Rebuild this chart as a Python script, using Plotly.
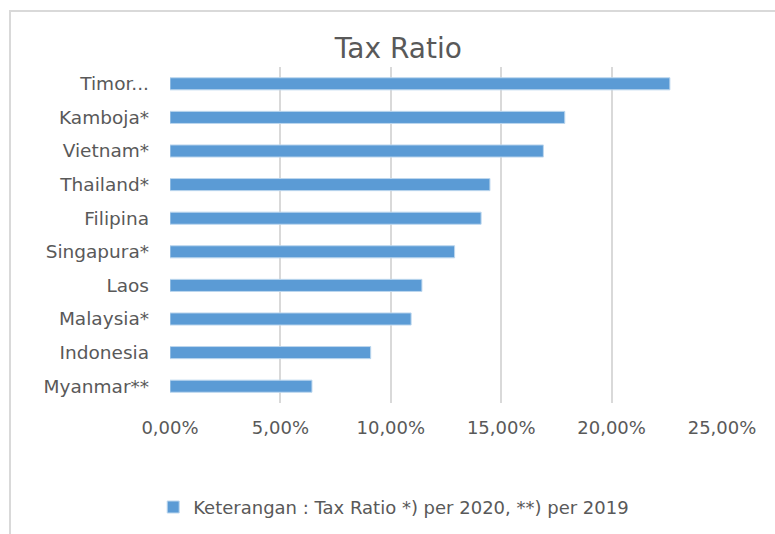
import plotly.graph_objects as go

countries = ["Myanmar**", "Indonesia", "Malaysia*", "Laos", "Singapura*",
             "Filipina", "Thailand*", "Vietnam*", "Kamboja*", "Timor..."]
tax_ratio = [6.43, 9.09, 10.92, 11.41, 12.89, 14.09, 14.49, 16.91, 17.88, 22.64]
tick_vals = [0, 5, 10, 15, 20, 25]
tick_text = ["0,00%", "5,00%", "10,00%", "15,00%", "20,00%", "25,00%"]

GRAY = "#595959"
FONT = "DejaVu Sans"

plot_l, plot_r, plot_t, plot_b = 170, 53, 67, 131
plot_w = 775 - plot_l - plot_r
plot_h = 534 - plot_t - plot_b

fig = go.Figure()
fig.add_trace(go.Bar(
    y=countries, x=tax_ratio, orientation="h",
    name="Keterangan : Tax Ratio *) per 2020, **) per 2019",
    marker=dict(color="#5B9BD5", line=dict(color="#BDD7EE", width=1)),
    width=0.36,
))

fig.update_layout(
    width=775, height=534,
    margin=dict(l=plot_l, r=plot_r, t=plot_t, b=plot_b),
    paper_bgcolor="white", plot_bgcolor="white",
    title=dict(text="Tax Ratio", x=0.514, xanchor="center", y=0.91, yanchor="middle",
               font=dict(family=FONT, size=28, color=GRAY)),
    font=dict(family=FONT, color=GRAY),
    xaxis=dict(range=[0, 25], tickvals=tick_vals, ticktext=tick_text,
               showgrid=True, gridcolor="#D9D9D9", gridwidth=1.5,
               zeroline=False, showline=False, ticks="",
               tickfont=dict(family=FONT, size=18, color=GRAY),
               ticklabelstandoff=12),
    yaxis=dict(categoryorder="array", categoryarray=countries,
               showgrid=False, ticks="", showline=False,
               tickfont=dict(family=FONT, size=18.5, color=GRAY),
               ticklabelstandoff=20),
    showlegend=True,
    legend=dict(orientation="h", xref="container", yref="container",
                x=0.508, xanchor="center", y=0.05, yanchor="middle",
                font=dict(family=FONT, size=18, color=GRAY),
                itemwidth=30, bgcolor="rgba(0,0,0,0)"),
    shapes=[dict(type="rect", xref="paper", yref="paper",
                 x0=(10 - plot_l) / plot_w, x1=(790 - plot_l) / plot_w,
                 y0=-(plot_b + 20) / plot_h, y1=(534 - 11 - plot_b) / plot_h,
                 line=dict(color="#D9D9D9", width=2), fillcolor="rgba(0,0,0,0)",
                 layer="below")],
)

fig.write_html("out.html")
